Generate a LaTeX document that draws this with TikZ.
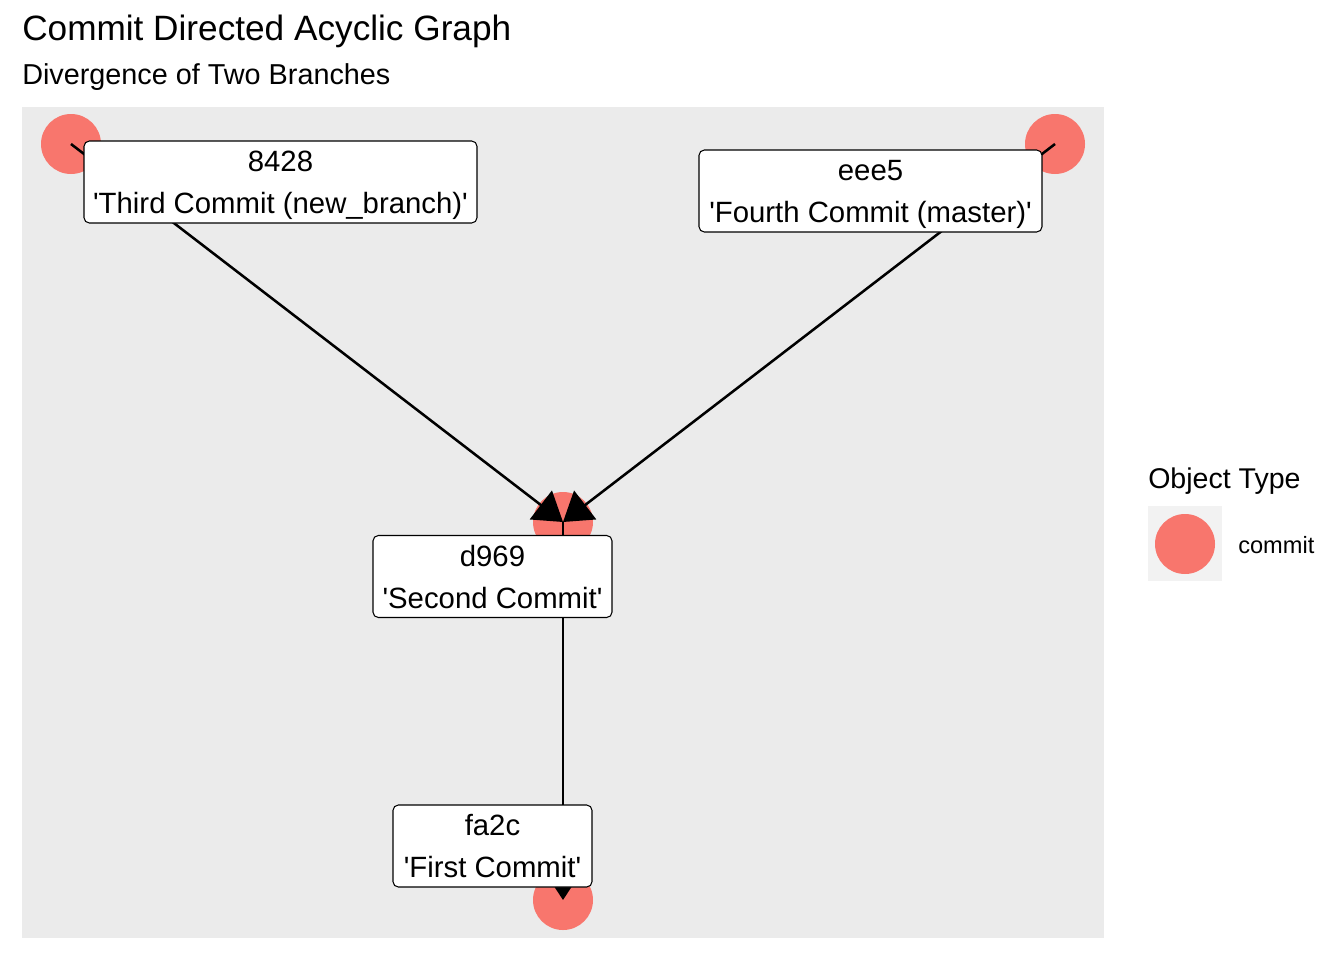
\documentclass[tikz,border=0pt]{standalone}
\usepackage{fontspec}
\setmainfont{Liberation Sans}
\usetikzlibrary{arrows.meta}
\definecolor{commitred}{HTML}{F8766D}
\definecolor{panelgray}{HTML}{EBEBEB}
\definecolor{keygray}{HTML}{F2F2F2}
\newcommand{\q}{\textquotesingle}
\newcommand{\topline}[1]{\rule{0pt}{21pt}#1}
\newcommand{\botline}[1]{\rule[-5.25pt]{0pt}{1pt}#1}
\begin{document}
\begin{tikzpicture}[x=0.75pt,y=-0.75pt,
  lbl/.style={draw=black, line width=0.8pt, fill=white, rounded corners=4pt, inner sep=0pt, align=center, font=\fontsize{22}{31.5}\selectfont, minimum height=61.5pt},
  commit/.style={circle, fill=commitred, minimum size=45pt, inner sep=0pt},
  edgeline/.style={line width=1.9pt, -{Triangle[length=21pt,width=27pt]}}
]
\useasboundingbox (0,0) rectangle (1344,960);
\fill[white] (0,0) rectangle (1344,960);
% titles
\node[anchor=base west, inner sep=0pt, font=\fontsize{26.4}{30}\selectfont] (title) at (22,40) {Commit Directed Acyclic Graph};
\node[anchor=base west, inner sep=0pt, font=\fontsize{21.6}{26}\selectfont] (subtitle) at (22,84) {Divergence of Two Branches};
% panel
\fill[panelgray] (22,107) rectangle (1104,938);
% commits
\node[commit] (c8428) at (71,144) {};
\node[commit] (ceee5) at (1055,144) {};
\node[commit] (cd969) at (563,522) {};
\node[commit] (cfa2c) at (563,900) {};
% edges
\draw[edgeline] (c8428.center) -- (cd969.center);
\draw[edgeline] (ceee5.center) -- (cd969.center);
\draw[edgeline] (cd969.center) -- (cfa2c.center);
% labels
\node[lbl, minimum width=294.75pt] (l8428) at (280.5,182) {\topline{8428}\\\botline{\q Third Commit (new\_branch)\q}};
\node[lbl, minimum width=257.25pt] (leee5) at (870.5,191) {\topline{eee5}\\\botline{\q Fourth Commit (master)\q}};
\node[lbl, minimum width=179.25pt] (ld969) at (492.5,576.5) {\topline{d969}\\\botline{\q Second Commit\q}};
\node[lbl, minimum width=149.25pt] (lfa2c) at (492.5,846) {\topline{fa2c}\\\botline{\q First Commit\q}};
% legend
\node[anchor=base west, inner sep=0pt, font=\fontsize{21.4}{26}\selectfont] (legtitle) at (1148,488) {Object Type};
\fill[keygray] (1148,506) rectangle (1222,581);
\node[commit] (legkey) at (1185,544) {};
\node[anchor=base west, inner sep=0pt, font=\fontsize{17.7}{22}\selectfont] (legtext) at (1238,553) {commit};
\end{tikzpicture}
\end{document}
